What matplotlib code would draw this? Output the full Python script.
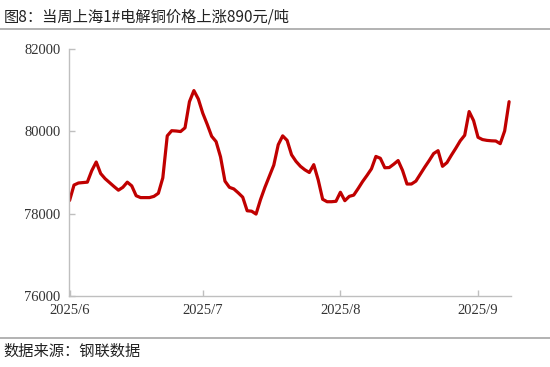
import matplotlib
matplotlib.use("Agg")
import matplotlib.pyplot as plt
import pandas as pd

# 上海1#电解铜价格（元/吨），逐日
start_date = "2025-06-03"
prices = [
    78320, 78695, 78745, 78755, 78765, 79045, 79255, 78975, 78850, 78755,
    78660, 78570, 78640, 78765, 78675, 78435, 78390, 78390, 78390, 78420,
    78495, 78870, 79890, 80015, 80008, 79995, 80085, 80720, 80990, 80785,
    80440, 80170, 79880, 79750, 79380, 78790, 78640, 78600, 78505, 78400,
    78070, 78060, 77990, 78340, 78640, 78910, 79180, 79675, 79890, 79780,
    79430, 79270, 79150, 79065, 79000, 79190, 78820, 78350, 78290, 78290,
    78300, 78520, 78315, 78420, 78450, 78610, 78780, 78930, 79090, 79390,
    79345, 79115, 79120, 79200, 79290, 79050, 78720, 78720, 78790, 78960,
    79130, 79290, 79460, 79530, 79150, 79240, 79420, 79590, 79770, 79905,
    80480, 80260, 79855, 79800, 79780, 79770, 79765, 79700, 80010, 80720,
]
tick_dates = ["2025-06-03", "2025-07-03", "2025-08-03", "2025-09-03"]
tick_labels = ["2025/6", "2025/7", "2025/8", "2025/9"]
y_ticks = [76000, 78000, 80000, 82000]

title = "图8：当周上海1#电解铜价格上涨890元/吨"
source = "数据来源：钢联数据"

dates = pd.date_range(start_date, periods=len(prices), freq="D")

cjk = ["Noto Sans CJK SC", "DejaVu Sans"]
serif = "Liberation Serif"
grey = "#bfbfbf"

fig = plt.figure(figsize=(5.5, 3.67), dpi=100)
ax = fig.add_axes([0.1255, 0.1935, 0.8035, 0.673])

ax.plot(dates, prices, color="#c00000", linewidth=2.3,
        solid_joinstyle="round", solid_capstyle="round")

ax.set_ylim(76000, 82000)
ax.set_yticks(y_ticks)
ax.set_xlim(dates[0] - pd.Timedelta(hours=3), dates[-1] + pd.Timedelta(hours=10))
ax.set_xticks(pd.to_datetime(tick_dates))
ax.set_xticklabels(tick_labels)

for s in ["top", "right"]:
    ax.spines[s].set_visible(False)
for s in ["left", "bottom"]:
    ax.spines[s].set_color(grey)
    ax.spines[s].set_linewidth(1.0)
ax.tick_params(direction="in", length=4, color=grey, width=1.0,
               labelsize=10.5, labelcolor="#333333", pad=6)
for lab in ax.get_xticklabels() + ax.get_yticklabels():
    lab.set_fontfamily(serif)

fig.text(0.006, 0.955, title, family=cjk, fontsize=11, color="#222222",
         va="center", ha="left")
fig.add_artist(plt.Line2D([0, 1], [1 - 28.5 / 367] * 2, color="#a6a6a6", linewidth=1.2))
fig.add_artist(plt.Line2D([0, 1], [1 - 338 / 367] * 2, color="#a6a6a6", linewidth=1.2))
fig.text(0.006, 1 - 351 / 367, source, family=cjk, fontsize=11, color="#222222",
         va="center", ha="left")

fig.savefig("out.png", dpi=100)
